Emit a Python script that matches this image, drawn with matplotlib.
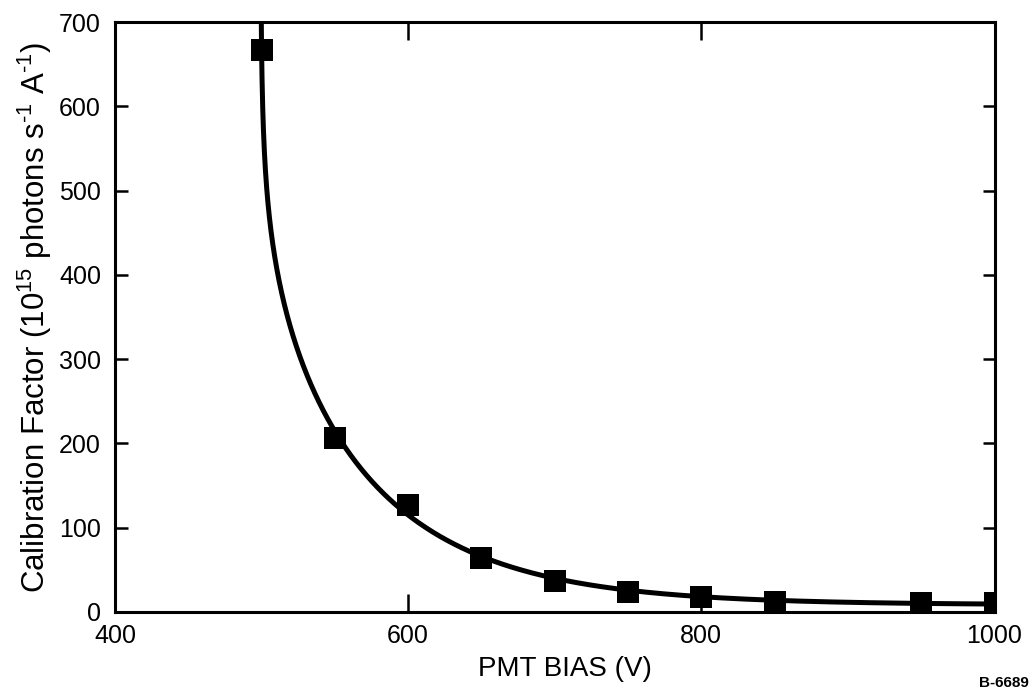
import numpy as np
import matplotlib.pyplot as plt

plt.rcParams['font.family'] = ['Liberation Sans', 'DejaVu Sans']
plt.rcParams['mathtext.fontset'] = 'custom'
plt.rcParams['mathtext.rm'] = 'Liberation Sans'
plt.rcParams['mathtext.it'] = 'Liberation Sans'

# PMT bias (V) and measured calibration factor
bias = [500, 550, 600, 650, 700, 750, 800, 850, 950, 1000]
calib = [667, 206, 127, 64, 36, 23, 18, 12, 10, 11]

xb = np.array(bias, dtype=float)
yc = np.array(calib, dtype=float)

# fit y = d + a * (x - c)**(-n) * exp(-k * (x - c)), grid over c and d
best = None
for c in np.arange(490.0, 499.5, 0.25):
    for d in np.arange(0.0, 9.5, 0.25):
        t = xb - c
        A = np.vstack([np.ones_like(t), -np.log(t), -t]).T
        w = (yc - d) / np.sqrt(yc + 15)
        coef, *_ = np.linalg.lstsq(A * w[:, None], np.log(yc - d) * w,
                                   rcond=None)
        if coef[1] < 0 or coef[2] < 0:
            continue
        pred = d + np.exp(A @ coef)
        err = np.sum((pred - yc) ** 2 / (yc + 15))
        if best is None or err < best[0]:
            best = (err, c, d, coef)
_, c, d, coef = best
xf = np.linspace(c + 0.2, 1000, 3000)
tf = xf - c
yf = d + np.exp(coef[0] - coef[1] * np.log(tf) - coef[2] * tf)

fig = plt.figure(figsize=(10.36, 6.96), dpi=100)
ax = fig.add_axes([0.111, 0.121, 0.849, 0.847])

ax.plot(xf, yf, color='black', lw=3.6, solid_capstyle='round', zorder=2)
ax.plot(xb, yc, 's', color='black', ms=15.5, markeredgewidth=0, zorder=3)

ax.set_xlim(400, 1000)
ax.set_ylim(0, 700)
ax.set_xticks([400, 600, 800, 1000])
ax.set_yticks(range(0, 701, 100))

for s in ax.spines.values():
    s.set_linewidth(2.2)

ax.tick_params(axis='x', direction='in', length=13, width=1.8,
               top=True, labelsize=18, pad=9)
ax.tick_params(axis='y', direction='in', length=9, width=1.8,
               right=True, labelsize=18, pad=10)

ax.set_xlabel('PMT BIAS (V)', fontsize=20)
ax.xaxis.set_label_coords(0.511, -0.075)
ax.set_ylabel(r'Calibration Factor (10$^{15}$ photons s$^{\text{-}1}$ A$^{\text{-}1}$)',
              fontsize=22.5, labelpad=4)

fig.text(0.993, 0.008, 'B-6689', ha='right', va='bottom',
         fontsize=11, fontweight='bold')

fig.savefig('out.png', dpi=100)
